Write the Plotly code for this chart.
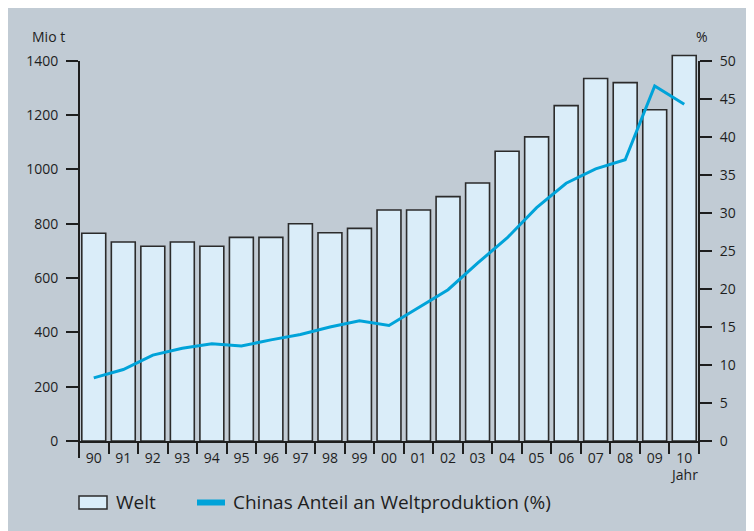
import plotly.graph_objs as go

# Data
years = ["90", "91", "92", "93", "94", "95", "96", "97", "98", "99",
         "00", "01", "02", "03", "04", "05", "06", "07", "08", "09", "10"]
welt = [765, 733, 717, 733, 717, 750, 750, 800, 767, 783,
        851, 851, 900, 950, 1067, 1120, 1235, 1335, 1320, 1220, 1420]
china_anteil = [8.3, 9.4, 11.3, 12.2, 12.8, 12.5, 13.3, 14.0, 15.0, 15.8,
                15.2, 17.6, 19.9, 23.4, 26.7, 30.7, 33.9, 35.8, 37.0, 46.7, 44.3]
left_ticks = [0, 200, 400, 600, 800, 1000, 1200, 1400]
right_ticks = [0, 5, 10, 15, 20, 25, 30, 35, 40, 45, 50]

# the page body has an 8px margin, so the figure sits at (8, 8) in the window
W, H = 746, 523
L, R, T, B = 71, 55, 42, 90
PW, PH = W - L - R, H - T - B
X0, Y0 = 79, 441  # window pixel of plot origin
YMAX = 1440

BG = "#c1cbd4"
BAR = "#daedf9"
DARK = "#1e1e1e"
BLUE = "#00a3d9"
FONT = "Open Sans"


def px(x):
    # window pixel -> paper x
    return (x - X0) / PW


def py(y):
    # window pixel -> paper y
    return (Y0 - y) / PH


fig = go.Figure()

fig.add_trace(go.Bar(
    x=years,
    y=welt,
    name="Welt",
    marker=dict(color=BAR, line=dict(color="#2b2b2b", width=1.6)),
    showlegend=False,
))

fig.add_trace(go.Scatter(
    x=years,
    y=china_anteil,
    mode="lines",
    name="Chinas Anteil an Weltproduktion (%)",
    line=dict(color=BLUE, width=3),
    yaxis="y2",
    showlegend=False,
))

shapes = [
    # grey panel
    dict(type="rect", xref="paper", yref="paper", layer="below",
         x0=px(8), x1=px(754), y0=py(531), y1=py(8),
         fillcolor=BG, line=dict(width=0)),
    # left axis line (stops at 1400, runs down past the x axis)
    dict(type="line", xref="paper", yref="paper",
         x0=0, x1=0, y0=py(458), y1=py(61),
         line=dict(color=DARK, width=2)),
    # right axis line
    dict(type="line", xref="paper", yref="paper",
         x0=1, x1=1, y0=py(454), y1=py(61),
         line=dict(color=DARK, width=2)),
    # legend symbols
    dict(type="rect", xref="paper", yref="paper",
         x0=px(79), x1=px(107), y0=py(509), y1=py(496),
         fillcolor=BAR, line=dict(color="#2b2b2b", width=1.5)),
    dict(type="line", xref="paper", yref="paper",
         x0=px(197), x1=px(225), y0=py(502.5), y1=py(502.5),
         line=dict(color=BLUE, width=6)),
]

annotations = [
    dict(text="Mio t", xref="paper", yref="paper", x=px(30), y=py(37),
         xanchor="left", yanchor="middle", showarrow=False,
         font=dict(size=14, color=DARK, family=FONT)),
    dict(text="%", xref="paper", yref="paper", x=px(702), y=py(37),
         xanchor="center", yanchor="middle", showarrow=False,
         font=dict(size=14, color=DARK, family=FONT)),
    dict(text="Jahr", xref="paper", yref="paper", x=px(684), y=py(474),
         xanchor="center", yanchor="middle", showarrow=False,
         font=dict(size=14, color=DARK, family=FONT)),
    dict(text="Welt", xref="paper", yref="paper", x=px(114), y=py(502),
         xanchor="left", yanchor="middle", showarrow=False,
         font=dict(size=19, color=DARK, family=FONT)),
    dict(text="Chinas Anteil an Weltproduktion (%)", xref="paper", yref="paper",
         x=px(231), y=py(502), xanchor="left", yanchor="middle", showarrow=False,
         font=dict(size=19, color=DARK, family=FONT)),
]

fig.update_layout(
    width=W,
    height=H,
    margin=dict(l=L, r=R, t=T, b=B, pad=0),
    paper_bgcolor="white",
    plot_bgcolor=BG,
    font=dict(family=FONT, size=14, color=DARK),
    bargap=0.19,
    showlegend=False,
    xaxis=dict(
        type="category",
        showline=True,
        linecolor=DARK,
        linewidth=2,
        showgrid=False,
        ticks="outside",
        tickson="boundaries",
        ticklen=11,
        tickwidth=2,
        tickcolor=DARK,
        ticklabelstandoff=3,
        tickfont=dict(size=14),
    ),
    yaxis=dict(
        range=[0, YMAX],
        tickvals=left_ticks,
        showgrid=False,
        zeroline=False,
        showline=False,
        ticks="outside",
        ticklen=12,
        tickwidth=2,
        tickcolor=DARK,
        ticklabelstandoff=5,
        tickfont=dict(size=14),
    ),
    yaxis2=dict(
        range=[0, 50 * YMAX / 1400],
        tickvals=right_ticks,
        overlaying="y",
        side="right",
        showgrid=False,
        zeroline=False,
        showline=False,
        ticks="outside",
        ticklen=12,
        tickwidth=2,
        tickcolor=DARK,
        ticklabelstandoff=5,
        tickfont=dict(size=14),
    ),
    shapes=shapes,
    annotations=annotations,
)

fig.write_html("out.html")
